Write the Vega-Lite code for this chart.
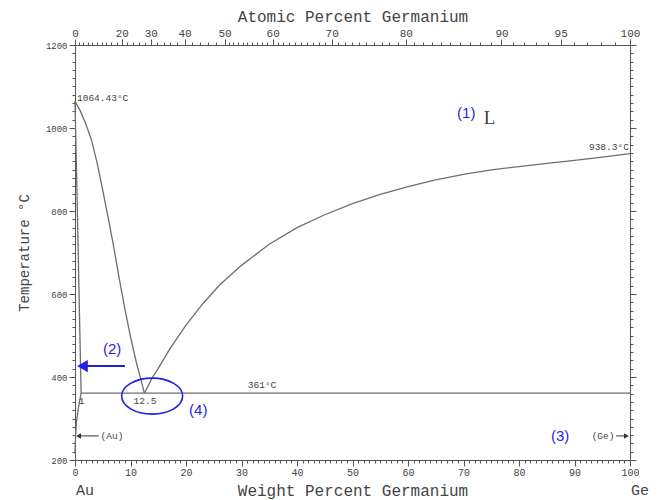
{
  "$schema": "https://vega.github.io/schema/vega-lite/v6.json",
  "width": 555,
  "height": 415,
  "autosize": "none",
  "padding": {"left": 75, "top": 45, "right": 32, "bottom": 40},
  "background": "white",
  "config": {
    "view": {"stroke": null},
    "axis": {
      "domainColor": "#555",
      "tickColor": "#555",
      "labelColor": "#444",
      "titleColor": "#444",
      "labelFont": "Liberation Mono",
      "titleFont": "Liberation Mono",
      "titleFontWeight": "normal",
      "grid": false,
      "labelOverlap": false,
      "labelFlush": false
    }
  },
  "datasets": {
    "curves": [
      {"seg": "liqAu", "i": 0, "w": 0, "T": 1064.43},
      {"seg": "liqAu", "i": 1, "w": 1, "T": 1040},
      {"seg": "liqAu", "i": 2, "w": 2, "T": 1008},
      {"seg": "liqAu", "i": 3, "w": 3, "T": 970},
      {"seg": "liqAu", "i": 4, "w": 4, "T": 915},
      {"seg": "liqAu", "i": 5, "w": 5, "T": 850},
      {"seg": "liqAu", "i": 6, "w": 6, "T": 782},
      {"seg": "liqAu", "i": 7, "w": 7, "T": 712},
      {"seg": "liqAu", "i": 8, "w": 8, "T": 635},
      {"seg": "liqAu", "i": 9, "w": 9, "T": 563},
      {"seg": "liqAu", "i": 10, "w": 10, "T": 497},
      {"seg": "liqAu", "i": 11, "w": 11, "T": 438},
      {"seg": "liqAu", "i": 12, "w": 12, "T": 387},
      {"seg": "liqAu", "i": 13, "w": 12.5, "T": 361},
      {"seg": "liqGe", "i": 0, "w": 12.5, "T": 361},
      {"seg": "liqGe", "i": 1, "w": 14, "T": 400},
      {"seg": "liqGe", "i": 2, "w": 15, "T": 421},
      {"seg": "liqGe", "i": 3, "w": 17, "T": 466},
      {"seg": "liqGe", "i": 4, "w": 20, "T": 525},
      {"seg": "liqGe", "i": 5, "w": 23, "T": 576},
      {"seg": "liqGe", "i": 6, "w": 26, "T": 621},
      {"seg": "liqGe", "i": 7, "w": 30, "T": 669},
      {"seg": "liqGe", "i": 8, "w": 35, "T": 720},
      {"seg": "liqGe", "i": 9, "w": 40, "T": 760},
      {"seg": "liqGe", "i": 10, "w": 45, "T": 791},
      {"seg": "liqGe", "i": 11, "w": 50, "T": 818},
      {"seg": "liqGe", "i": 12, "w": 55, "T": 840},
      {"seg": "liqGe", "i": 13, "w": 60, "T": 859},
      {"seg": "liqGe", "i": 14, "w": 65, "T": 875},
      {"seg": "liqGe", "i": 15, "w": 70, "T": 888},
      {"seg": "liqGe", "i": 16, "w": 75, "T": 899},
      {"seg": "liqGe", "i": 17, "w": 80, "T": 907},
      {"seg": "liqGe", "i": 18, "w": 85, "T": 915},
      {"seg": "liqGe", "i": 19, "w": 90, "T": 922},
      {"seg": "liqGe", "i": 20, "w": 95, "T": 930},
      {"seg": "liqGe", "i": 21, "w": 100, "T": 938.3},
      {"seg": "solidus", "i": 0, "w": 0, "T": 1064.43},
      {"seg": "solidus", "i": 1, "w": 0.35, "T": 850},
      {"seg": "solidus", "i": 2, "w": 0.7, "T": 620},
      {"seg": "solidus", "i": 3, "w": 1.1, "T": 361},
      {"seg": "solvus", "i": 0, "w": 1.1, "T": 361},
      {"seg": "solvus", "i": 1, "w": 0.6, "T": 325},
      {"seg": "solvus", "i": 2, "w": 0.25, "T": 290},
      {"seg": "solvus", "i": 3, "w": 0.08, "T": 250},
      {"seg": "solvus", "i": 4, "w": 0, "T": 215},
      {"seg": "eutectic", "i": 0, "w": 1.1, "T": 361},
      {"seg": "eutectic", "i": 1, "w": 100, "T": 361}
    ]
  },
  "layer": [
    {
      "data": {"name": "curves"},
      "mark": {"type": "line", "color": "#6e6e6e", "strokeWidth": 1.3},
      "encoding": {
        "x": {
          "field": "w", "type": "quantitative",
          "scale": {"domain": [0, 100], "nice": false, "zero": false},
          "axis": {
            "orient": "bottom",
            "title": "Weight Percent Germanium",
            "titleFontSize": 16,
            "titlePadding": 5,
            "labelFontSize": 10,
            "labelPadding": 1,
            "format": "d",
            "values": [0,1,2,3,4,5,6,7,8,9,10,11,12,13,14,15,16,17,18,19,20,21,22,23,24,25,26,27,28,29,30,31,32,33,34,35,36,37,38,39,40,41,42,43,44,45,46,47,48,49,50,51,52,53,54,55,56,57,58,59,60,61,62,63,64,65,66,67,68,69,70,71,72,73,74,75,76,77,78,79,80,81,82,83,84,85,86,87,88,89,90,91,92,93,94,95,96,97,98,99,100],
            "labelExpr": "datum.value % 10 === 0 ? datum.label : ''",
            "tickSize": {"condition": {"test": "datum.value % 10 === 0", "value": 6}, "value": 3}
          }
        },
        "y": {
          "field": "T", "type": "quantitative",
          "scale": {"domain": [200, 1200], "nice": false, "zero": false},
          "axis": {
            "orient": "left",
            "title": "Temperature °C",
            "titleFontSize": 14,
            "titlePadding": 14,
            "labelFontSize": 9,
            "format": "d",
            "values": [200,220,240,260,280,300,320,340,360,380,400,420,440,460,480,500,520,540,560,580,600,620,640,660,680,700,720,740,760,780,800,820,840,860,880,900,920,940,960,980,1000,1020,1040,1060,1080,1100,1120,1140,1160,1180,1200],
            "labelExpr": "datum.value % 200 === 0 ? datum.label : ''",
            "tickSize": {"condition": {"test": "datum.value % 200 === 0", "value": 6}, "value": 3}
          }
        },
        "detail": {"field": "seg"},
        "order": {"field": "i"}
      }
    },
    {
      "data": {"values": [
        {"w": 0.36, "T": 1073, "label": "1064.43°C"},
        {"w": 4.6, "T": 258, "label": "(Au)"}
      ]},
      "mark": {"type": "text", "font": "Liberation Mono", "fontSize": 9.5, "color": "#444", "align": "left", "baseline": "middle"},
      "encoding": {
        "x": {
          "field": "w", "type": "quantitative",
          "axis": {
            "orient": "top",
            "title": "Atomic Percent Germanium",
            "titleFontSize": 16,
            "titlePadding": 3,
            "labelFontSize": 11,
            "labelPadding": 1,
            "values": [0,0.7469,1.5132,2.2995,3.1067,3.9358,4.7875,5.6628,6.5626,7.4881,8.4403,9.4206,10.4299,11.4696,12.5413,13.6464,14.7865,15.9632,17.1783,18.434,19.7319,21.0744,22.4638,23.9028,25.3939,26.9402,27.7346,28.5443,29.369,30.2097,31.0668,31.9404,32.8314,33.74,34.6671,35.6129,36.5782,37.5633,38.5691,39.5964,40.6456,41.7177,42.8131,43.9326,45.0772,46.2476,47.445,48.6705,49.9238,51.2072,52.5213,53.8675,55.2464,56.66,58.1093,59.5951,61.1196,62.684,64.2895,65.9386,67.6324,69.373,71.1625,73.0026,74.8962,76.8446,78.8509,80.9176,83.0478,85.2439,87.5093,89.8472,92.2617,94.7557,97.3337,100],
            "labelExpr": "indexof([0,20,30,40,50,60,70,80,90,95,100], round(100*(datum.value/72.63)/((datum.value/72.63)+(100-datum.value)/196.97))) >= 0 ? format(round(100*(datum.value/72.63)/((datum.value/72.63)+(100-datum.value)/196.97)), 'd') : ''",
            "tickSize": {"condition": {"test": "indexof([0,20,30,40,50,60,70,80,90,95,100], round(100*(datum.value/72.63)/((datum.value/72.63)+(100-datum.value)/196.97))) >= 0", "value": 6}, "value": 3}
          }
        },
        "y": {
          "field": "T", "type": "quantitative",
          "axis": {
            "orient": "right",
            "title": null,
            "labels": false,
            "values": [200,220,240,260,280,300,320,340,360,380,400,420,440,460,480,500,520,540,560,580,600,620,640,660,680,700,720,740,760,780,800,820,840,860,880,900,920,940,960,980,1000,1020,1040,1060,1080,1100,1120,1140,1160,1180,1200],
            "tickSize": {"condition": {"test": "datum.value % 200 === 0", "value": 6}, "value": 3}
          }
        },
        "text": {"field": "label"}
      }
    },
    {
      "data": {"values": [
        {"w": 33.7, "T": 381, "label": "361°C"},
        {"w": 12.6, "T": 342, "label": "12.5"},
        {"w": 1.2, "T": 342, "label": "1"}
      ]},
      "mark": {"type": "text", "font": "Liberation Mono", "fontSize": 9.5, "color": "#444", "align": "center", "baseline": "middle"},
      "encoding": {
        "x": {"field": "w", "type": "quantitative", "axis": null},
        "y": {"field": "T", "type": "quantitative", "axis": null},
        "text": {"field": "label"}
      }
    },
    {
      "data": {"values": [
        {"w": 99.8, "T": 954, "label": "938.3°C"},
        {"w": 97.2, "T": 258, "label": "(Ge)"}
      ]},
      "mark": {"type": "text", "font": "Liberation Mono", "fontSize": 9.5, "color": "#444", "align": "right", "baseline": "middle"},
      "encoding": {
        "x": {"field": "w", "type": "quantitative", "axis": null},
        "y": {"field": "T", "type": "quantitative", "axis": null},
        "text": {"field": "label"}
      }
    },
    {
      "data": {"values": [
        {"w": 1.8, "T": 128, "label": "Au"},
        {"w": 101.8, "T": 128, "label": "Ge"}
      ]},
      "mark": {"type": "text", "font": "Liberation Mono", "fontSize": 15, "color": "#444", "align": "center", "baseline": "middle"},
      "encoding": {
        "x": {"field": "w", "type": "quantitative", "axis": null},
        "y": {"field": "T", "type": "quantitative", "axis": null},
        "text": {"field": "label"}
      }
    },
    {
      "data": {"values": [{"w": 74.7, "T": 1023, "label": "L"}]},
      "mark": {"type": "text", "font": "Liberation Serif", "fontSize": 19, "color": "#444", "align": "center", "baseline": "middle"},
      "encoding": {
        "x": {"field": "w", "type": "quantitative", "axis": null},
        "y": {"field": "T", "type": "quantitative", "axis": null},
        "text": {"field": "label"}
      }
    },
    {
      "data": {"values": [
        {"w": 70.5, "T": 1037, "label": "(1)"},
        {"w": 6.7, "T": 467, "label": "(2)"},
        {"w": 87.4, "T": 258, "label": "(3)"},
        {"w": 22.2, "T": 320, "label": "(4)"}
      ]},
      "mark": {"type": "text", "font": "Liberation Sans", "fontSize": 15, "color": "#1f1fe6", "align": "center", "baseline": "middle"},
      "encoding": {
        "x": {"field": "w", "type": "quantitative", "axis": null},
        "y": {"field": "T", "type": "quantitative", "axis": null},
        "text": {"field": "label"}
      }
    },
    {
      "data": {"values": [{"w": 1.8, "w2": 9.0, "T": 426.5}]},
      "mark": {"type": "rule", "color": "#1f1fe6", "strokeWidth": 2.2},
      "encoding": {
        "x": {"field": "w", "type": "quantitative", "axis": null},
        "x2": {"field": "w2"},
        "y": {"field": "T", "type": "quantitative", "axis": null}
      }
    },
    {
      "data": {"values": [{"w": 1.35, "T": 426.5}]},
      "mark": {"type": "point", "shape": "triangle-left", "filled": true, "color": "#1f1fe6", "opacity": 1, "size": 150},
      "encoding": {
        "x": {"field": "w", "type": "quantitative", "axis": null},
        "y": {"field": "T", "type": "quantitative", "axis": null}
      }
    },
    {
      "data": {"values": [{"w": 13.9, "T": 354}]},
      "mark": {"type": "point", "shape": "M -1 0 A 1 0.59 0 1 0 1 0 A 1 0.59 0 1 0 -1 0 Z", "filled": false, "color": "#1f1fe6", "opacity": 1, "strokeWidth": 1.6, "size": 3721},
      "encoding": {
        "x": {"field": "w", "type": "quantitative", "axis": null},
        "y": {"field": "T", "type": "quantitative", "axis": null}
      }
    },
    {
      "data": {"values": [
        {"w": 0.8, "w2": 4.3, "T": 258},
        {"w": 97.5, "w2": 99.3, "T": 258}
      ]},
      "mark": {"type": "rule", "color": "#333", "strokeWidth": 1},
      "encoding": {
        "x": {"field": "w", "type": "quantitative", "axis": null},
        "x2": {"field": "w2"},
        "y": {"field": "T", "type": "quantitative", "axis": null}
      }
    },
    {
      "data": {"values": [{"w": 0.65, "T": 258}]},
      "mark": {"type": "point", "shape": "triangle-left", "filled": true, "color": "#333", "opacity": 1, "size": 30},
      "encoding": {
        "x": {"field": "w", "type": "quantitative", "axis": null},
        "y": {"field": "T", "type": "quantitative", "axis": null}
      }
    },
    {
      "data": {"values": [{"w": 99.35, "T": 258}]},
      "mark": {"type": "point", "shape": "triangle-right", "filled": true, "color": "#333", "opacity": 1, "size": 30},
      "encoding": {
        "x": {"field": "w", "type": "quantitative", "axis": null},
        "y": {"field": "T", "type": "quantitative", "axis": null}
      }
    }
  ]
}
